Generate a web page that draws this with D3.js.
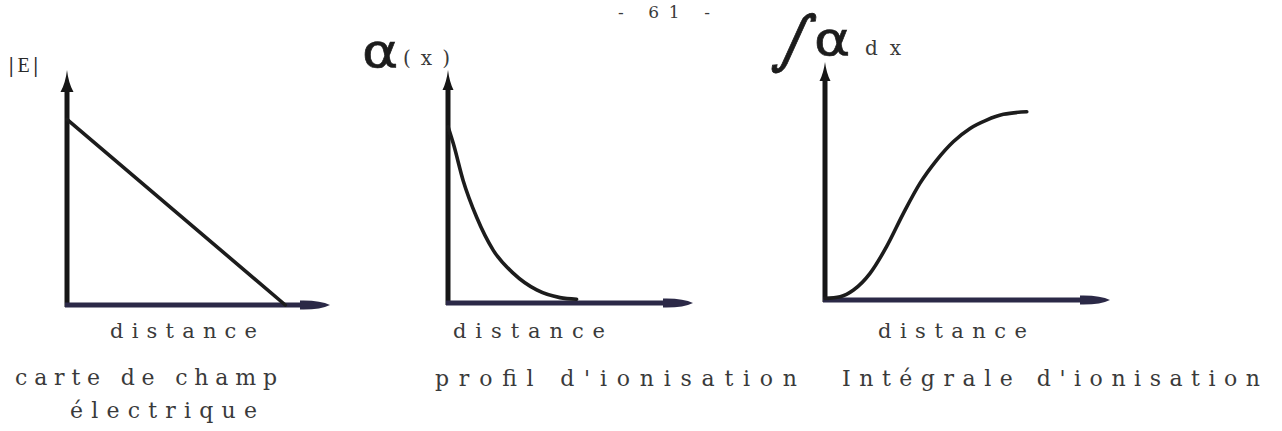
<!DOCTYPE html>
<html>
<head>
<meta charset="utf-8">
<script src="https://cdn.jsdelivr.net/npm/d3@7"></script>
<style>
  html, body { margin: 0; padding: 0; background: #ffffff; }
  svg { display: block; }
  .tw { font-family: "DejaVu Serif", "Liberation Serif", serif; fill: #3a3a3a; }
</style>
</head>
<body>
<svg id="fig" width="1282" height="431"></svg>
<script>
// Electric field |E| along the junction: linear decrease
const fieldX = [0, 8.3];
const fieldY = [7.9, 0];

// Ionisation coefficient alpha(x): sharp decay
const alphaX = [0, 0.22, 0.62, 1.17, 1.85, 2.67, 3.62, 4.57, 5.25];
const alphaY = [7.57, 6.83, 5.25, 3.68, 2.26, 1.27, 0.56, 0.23, 0.16];

// Ionisation integral: S-shaped growth to saturation
const integX = [0, 0.53, 1.0, 1.58, 2.16, 2.75, 3.33, 3.92, 4.5, 5.09, 5.67, 6.26, 7.08];
const integY = [0.07, 0.14, 0.42, 1.12, 2.24, 3.64, 4.9, 5.88, 6.65, 7.21, 7.56, 7.8, 7.91];

const xLabels = ["distance", "distance", "distance"];
const captions = [["carte de champ", "électrique"], ["profil d'ionisation"], ["Intégrale d'ionisation"]];

const svg = d3.select("#fig");
const axisY = "#161616";
const axisX = "#2b2947";
const ink = "#1c1c1c";

// panel frames
const panels = [
  { left: 67,  right: 330,  base: 305, top: 70, arrowLen: 22, arrowHalf: 6.5,
    xs: fieldX, ys: fieldY, curve: d3.curveLinear,
    lbl: { x: 110, w: 147 }, cap: [{ x: 15, w: 262, y: 385 }, { x: 70, w: 187, y: 418 }] },
  { left: 448, right: 693,  base: 303, top: 70, arrowLen: 20, arrowHalf: 5.5,
    xs: alphaX, ys: alphaY, curve: d3.curveMonotoneX,
    lbl: { x: 453, w: 152 }, cap: [{ x: 435, w: 362, y: 386 }] },
  { left: 825, right: 1110, base: 300, top: 62, arrowLen: 19, arrowHalf: 5.5,
    xs: integX, ys: integY, curve: d3.curveMonotoneX,
    lbl: { x: 878, w: 149 }, cap: [{ x: 842, w: 418, y: 386 }] }
];

panels.forEach((p, i) => {
  const x = d3.scaleLinear().domain([0, 10]).range([p.left, p.right]);
  const y = d3.scaleLinear().domain([0, 10]).range([p.base, p.top]);
  const g = svg.append("g");

  // vertical axis (stops at the arrowhead base)
  const yAx = d3.scaleLinear().domain([0, 10]).range([p.base + 2, p.top + p.arrowLen - 2]);
  const ga = g.append("g").attr("transform", `translate(${x(0)},0)`)
    .call(d3.axisLeft(yAx).ticks(0).tickSizeOuter(0));
  ga.select(".domain").attr("stroke", axisY).attr("stroke-width", 5).attr("d", `M0,${yAx.range()[0]}V${yAx.range()[1]}`);

  // horizontal axis
  const xAx = d3.scaleLinear().domain([0, 10]).range([p.left - 2, p.right - 14]);
  const gb = g.append("g").attr("transform", `translate(0,${y(0)})`)
    .call(d3.axisBottom(xAx).ticks(0).tickSizeOuter(0));
  gb.select(".domain").attr("stroke", axisX).attr("stroke-width", 5).attr("d", `M${xAx.range()[0]},0H${xAx.range()[1]}`);

  // arrowheads
  const ax = x(0), tipY = y(10);
  g.append("path")
    .attr("d", `M${ax},${tipY} Q${ax + 1.5},${tipY + p.arrowLen * 0.6} ${ax + p.arrowHalf},${tipY + p.arrowLen} L${ax - p.arrowHalf},${tipY + p.arrowLen} Q${ax - 1.5},${tipY + p.arrowLen * 0.6} ${ax},${tipY} Z`)
    .attr("fill", axisY);
  const tipX = x(10), by = y(0);
  g.append("path")
    .attr("d", `M${tipX},${by} Q${tipX - 10},${by - 5} ${tipX - 30},${by - 4.5} L${tipX - 30},${by + 4.5} Q${tipX - 10},${by + 5} ${tipX},${by} Z`)
    .attr("fill", axisX);

  // data curve
  const pts = p.xs.map((v, k) => [v, p.ys[k]]);
  g.append("path")
    .datum(pts)
    .attr("fill", "none")
    .attr("stroke", ink)
    .attr("stroke-width", 3.6)
    .attr("stroke-linecap", "round")
    .attr("d", d3.line().x(d => x(d[0])).y(d => y(d[1])).curve(p.curve));

  // axis title and caption
  g.append("text").attr("class", "tw")
    .attr("x", p.lbl.x).attr("y", 338)
    .attr("font-size", 21)
    .attr("textLength", p.lbl.w).attr("lengthAdjust", "spacing")
    .text(xLabels[i]);
  captions[i].forEach((c, k) => {
    g.append("text").attr("class", "tw")
      .attr("x", p.cap[k].x).attr("y", p.cap[k].y)
      .attr("font-size", 22)
      .attr("textLength", p.cap[k].w).attr("lengthAdjust", "spacing")
      .text(c);
  });
});

// page number
svg.append("text").attr("class", "tw")
  .attr("x", 618).attr("y", 18).attr("font-size", 17)
  .attr("textLength", 92).attr("lengthAdjust", "spacing")
  .text("- 61 -");

// vertical axis titles
const e = svg.append("text").attr("x", 9).attr("y", 72)
  .attr("font-family", "Liberation Serif, serif").attr("font-size", 20).attr("fill", "#2a2a2a")
  .attr("textLength", 29).attr("lengthAdjust", "spacing");
e.append("tspan").attr("font-weight", "bold").text("|");
e.append("tspan").text("E");
e.append("tspan").attr("font-weight", "bold").text("|");

svg.append("text").attr("transform", "translate(362,67) scale(1.2,1)")
  .attr("font-family", "DejaVu Sans, sans-serif")
  .attr("font-size", 46).attr("fill", ink).attr("stroke", ink).attr("stroke-width", 0.6).text("α");
svg.append("text").attr("class", "tw")
  .attr("x", 403).attr("y", 65).attr("font-size", 20)
  .attr("textLength", 47).attr("lengthAdjust", "spacing")
  .text("(x)");

svg.append("text").attr("transform", "translate(771,60) skewX(-22)")
  .attr("font-family", "DejaVu Sans, sans-serif")
  .attr("font-size", 62).attr("fill", ink).attr("stroke", ink).attr("stroke-width", 0.8).text("∫");
svg.append("text").attr("transform", "translate(814,55) scale(1.2,1)")
  .attr("font-family", "DejaVu Sans, sans-serif")
  .attr("font-size", 46).attr("fill", ink).attr("stroke", ink).attr("stroke-width", 0.6).text("α");
svg.append("text").attr("class", "tw")
  .attr("x", 865).attr("y", 55).attr("font-size", 20)
  .attr("textLength", 36).attr("lengthAdjust", "spacing")
  .text("dx");
</script>
</body>
</html>
